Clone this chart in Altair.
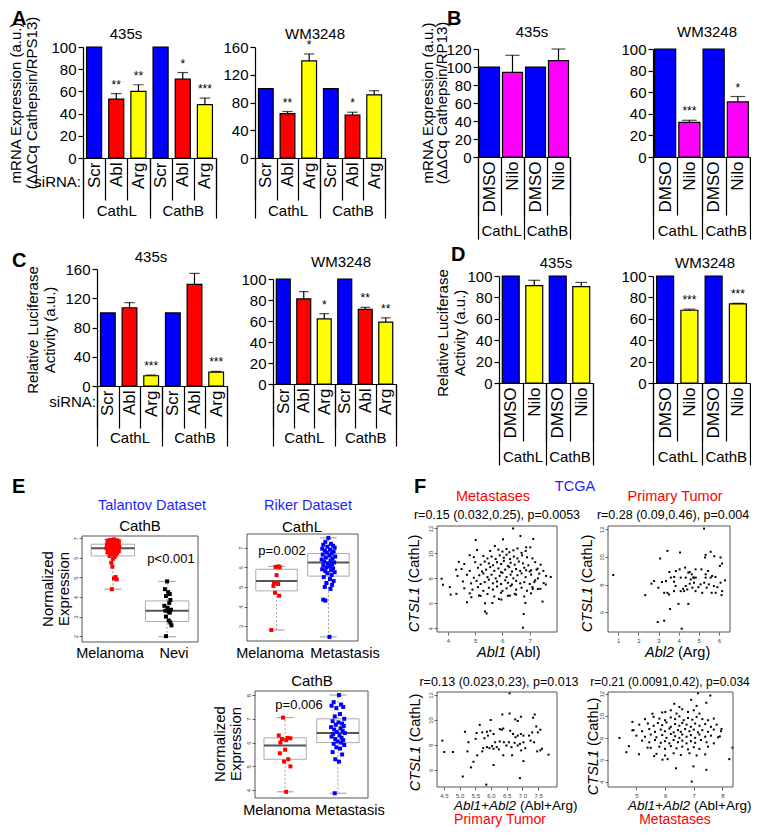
import altair as alt
import pandas as pd

FONT = "Liberation Sans"
BLUE = "#0000FF"; RED = "#FF0000"; YELLOW = "#FFFF00"; MAGENTA = "#FF00FF"
TBLUE = "#1E1EFF"
ONE = pd.DataFrame({"k": [0]})

# ---------------- data: bar panels ----------------
a_conds = ["Scr", "Abl", "Arg", "Scr", "Abl", "Arg"]
a_groups = ["CathL", "CathL", "CathL", "CathB", "CathB", "CathB"]
a435_vals = [100, 53, 60, 100, 71, 48]
a435_errs = [0, 5, 6, 0, 6, 6]
a435_stars = ["", "**", "**", "", "*", "***"]
awm_vals = [100, 64, 140, 100, 62, 91]
awm_errs = [0, 3, 10, 0, 4, 6]
awm_stars = ["", "**", "*", "", "*", ""]

b_conds = ["DMSO", "Nilo", "DMSO", "Nilo"]
b_groups = ["CathL", "CathL", "CathB", "CathB"]
b435_vals = [100, 94, 100, 107]
b435_errs = [0, 19, 0, 13]
b435_stars = ["", "", "", ""]
bwm_vals = [100, 32, 100, 51]
bwm_errs = [0, 2, 0, 5]
bwm_stars = ["", "***", "", "*"]

c435_vals = [100, 107, 14, 100, 139, 19]
c435_errs = [0, 7, 1, 0, 15, 1]
c435_stars = ["", "", "***", "", "", "***"]
cwm_vals = [100, 81, 62, 100, 71, 59]
cwm_errs = [0, 7, 5, 0, 2, 4]
cwm_stars = ["", "", "*", "", "**", "**"]

d435_vals = [100, 91, 100, 90]
d435_errs = [0, 5, 0, 4]
d435_stars = ["", "", "", ""]
dwm_vals = [100, 68, 100, 74]
dwm_errs = [0, 1, 0, 0.5]
dwm_stars = ["", "***", "", "***"]

# ---------------- data: E box plots (jitter, value) ----------------
tal_cats = ["Melanoma", "Nevi"]
tal_mel = [(0.02, 6.95), (-0.05, 6.92), (0.08, 6.9), (-0.1, 6.88), (0.04, 6.85), (0.11, 6.82), (-0.03, 6.8),
           (0.06, 6.78), (-0.08, 6.75), (0.1, 6.72), (0.0, 6.7), (-0.11, 6.68), (0.07, 6.65), (-0.04, 6.62),
           (0.03, 6.6), (0.12, 6.58), (-0.07, 6.55), (0.05, 6.52), (-0.12, 6.5), (0.09, 6.48), (-0.02, 6.45),
           (0.06, 6.42), (-0.09, 6.4), (0.02, 6.38), (0.11, 6.35), (-0.05, 6.32), (0.04, 6.3), (-0.1, 6.28),
           (0.08, 6.25), (-0.02, 6.2), (0.05, 6.15), (-0.06, 6.1), (0.03, 6.05), (0.0, 5.95), (-0.03, 5.75),
           (-0.01, 5.55), (0.05, 5.02), (0.02, 4.95), (0.07, 4.9), (-0.02, 4.4)]
tal_nevi = [(0.0, 4.8), (-0.04, 4.4), (0.02, 4.25), (0.05, 4.15), (-0.02, 4.05), (0.06, 3.85), (0.04, 3.7),
            (-0.05, 3.55), (0.01, 3.45), (0.07, 3.35), (-0.03, 3.3), (0.03, 3.25), (0.05, 3.2), (-0.02, 3.0),
            (0.03, 2.8), (0.06, 2.7), (0.08, 2.55), (-0.02, 2.0)]
tal_q1 = [6.1, 2.75]; tal_med = [6.5, 3.3]; tal_q3 = [6.7, 3.8]; tal_lo = [4.4, 1.97]; tal_hi = [6.95, 4.8]

rik_cats = ["Melanoma", "Metastasis"]
rl_mel = [(0.04, 6.05), (-0.02, 6.02), (0.06, 6.0), (0.0, 5.6), (-0.05, 5.2), (0.03, 5.15), (-0.06, 5.05),
          (-0.03, 4.7), (0.05, 4.55), (-0.1, 2.8)]
rl_met = [(0.0, 7.5), (-0.06, 7.3), (0.05, 7.2), (-0.1, 7.15), (0.09, 7.1), (-0.02, 7.05), (0.12, 7.0),
          (-0.12, 6.95), (0.03, 6.9), (-0.07, 6.85), (0.1, 6.8), (-0.03, 6.75), (0.06, 6.7), (-0.11, 6.65),
          (0.02, 6.6), (0.13, 6.55), (-0.05, 6.5), (0.08, 6.45), (-0.13, 6.4), (0.04, 6.35), (-0.08, 6.3),
          (0.11, 6.25), (-0.01, 6.2), (0.07, 6.15), (-0.1, 6.1), (0.02, 6.05), (-0.04, 6.0), (0.09, 5.95),
          (-0.12, 5.9), (0.05, 5.85), (-0.06, 5.8), (0.12, 5.75), (-0.02, 5.7), (0.06, 5.6), (-0.09, 5.5),
          (0.03, 5.4), (0.1, 5.3), (-0.04, 5.2), (0.07, 5.1), (-0.07, 5.0), (0.04, 4.9), (-0.1, 4.35),
          (-0.06, 4.3), (0.02, 2.45)]
rl_q1 = [4.8, 5.55]; rl_med = [5.3, 6.25]; rl_q3 = [5.9, 6.7]; rl_lo = [2.8, 2.45]; rl_hi = [6.05, 7.5]

rb_mel = [(-0.04, 7.05), (-0.12, 6.3), (0.05, 6.2), (0.1, 6.18), (-0.06, 6.15), (0.02, 6.1), (-0.09, 6.0),
          (0.0, 5.7), (-0.1, 5.55), (0.06, 5.3), (-0.02, 5.2), (0.1, 5.0), (0.02, 3.93)]
rb_met = [(0.02, 8.0), (-0.08, 7.7), (0.06, 7.6), (-0.12, 7.55), (0.1, 7.5), (-0.03, 7.45), (0.04, 7.2),
          (-0.06, 7.1), (0.12, 7.0), (-0.1, 6.9), (0.01, 6.85), (0.08, 6.8), (-0.04, 6.75), (0.11, 6.7),
          (-0.13, 6.65), (0.05, 6.6), (-0.07, 6.55), (0.09, 6.5), (-0.02, 6.45), (0.13, 6.4), (-0.09, 6.35),
          (0.03, 6.3), (-0.12, 6.25), (0.07, 6.2), (-0.05, 6.15), (0.1, 6.1), (-0.01, 6.05), (0.06, 6.0),
          (-0.08, 5.95), (0.12, 5.9), (-0.03, 5.8), (0.04, 5.75), (-0.1, 5.6), (0.08, 5.5), (-0.05, 5.3),
          (0.02, 5.2), (-0.06, 3.87)]
rb_q1 = [5.3, 6.0]; rb_med = [5.88, 6.4]; rb_q3 = [6.2, 7.0]; rb_lo = [3.93, 3.87]; rb_hi = [7.05, 8.0]

# ---------------- data: F scatter plots (x, y) ----------------
met_abl1 = [(6.39, 12.0), (5.02, 11.08), (6.02, 11.14), (6.66, 11.4), (7.13, 11.16), (6.87, 10.49), (7.02, 10.49),
            (5.72, 10.6), (5.07, 10.27), (4.8, 9.86), (4.4, 9.32), (4.3, 8.7), (3.77, 7.97), (3.82, 7.49),
            (4.07, 7.3), (4.1, 6.7), (4.31, 6.76), (4.7, 6.08), (4.86, 6.49), (5.14, 6.62), (5.36, 6.0),
            (5.36, 5.35), (5.42, 5.19), (5.63, 6.03), (5.87, 6.35), (5.96, 6.3), (6.27, 6.62), (6.45, 6.76),
            (6.78, 5.14), (6.75, 4.05), (6.84, 6.03), (7.47, 6.14), (7.77, 8.11), (7.59, 7.51), (7.51, 7.62),
            (7.29, 8.78), (7.35, 8.38), (7.17, 7.7), (7.11, 7.16), (7.39, 7.16), (7.05, 8.65), (6.87, 8.65),
            (5.55, 10.2), (5.85, 10.3), (6.0, 10.15), (6.15, 10.35), (6.25, 10.1), (6.4, 10.25), (6.55, 10.4),
            (6.7, 10.05), (6.85, 10.2),
            (4.95, 9.7), (5.3, 9.8), (5.45, 9.6), (5.6, 9.75), (5.75, 9.55), (5.9, 9.85), (6.05, 9.65),
            (6.15, 9.9), (6.28, 9.55), (6.42, 9.75), (6.55, 9.6), (6.72, 9.85), (6.9, 9.7), (7.1, 9.6),
            (4.6, 9.15), (5.0, 9.3), (5.2, 9.1), (5.35, 9.35), (5.5, 9.2), (5.65, 9.05), (5.8, 9.3), (5.95, 9.15),
            (6.05, 9.4), (6.2, 9.0), (6.3, 9.25), (6.45, 9.1), (6.6, 9.35), (6.75, 9.2), (6.95, 9.05), (7.2, 9.3),
            (7.4, 9.1),
            (4.5, 8.75), (4.8, 8.6), (5.1, 8.85), (5.25, 8.55), (5.4, 8.7), (5.55, 8.9), (5.7, 8.6), (5.85, 8.8),
            (5.95, 8.5), (6.1, 8.7), (6.25, 8.9), (6.35, 8.55), (6.5, 8.75), (6.65, 8.6), (6.8, 8.85), (7.0, 8.55),
            (7.25, 8.7), (7.5, 8.6),
            (4.35, 8.2), (4.7, 8.3), (4.95, 8.05), (5.15, 8.25), (5.3, 8.4), (5.45, 8.1), (5.6, 8.3), (5.75, 8.0),
            (5.9, 8.2), (6.0, 8.45), (6.15, 8.1), (6.3, 8.3), (6.4, 8.0), (6.55, 8.25), (6.7, 8.4), (6.85, 8.1),
            (7.05, 8.3), (7.3, 8.0), (7.6, 8.2),
            (4.55, 7.75), (4.85, 7.6), (5.05, 7.8), (5.2, 7.55), (5.35, 7.7), (5.5, 7.9), (5.65, 7.6), (5.8, 7.75),
            (5.95, 7.55), (6.1, 7.85), (6.2, 7.65), (6.35, 7.5), (6.5, 7.8), (6.65, 7.6), (6.8, 7.7), (7.0, 7.55),
            (7.2, 7.85),
            (4.6, 7.2), (4.9, 7.1), (5.1, 7.3), (5.3, 7.0), (5.5, 7.25), (5.65, 7.1), (5.8, 7.35), (6.0, 7.0),
            (6.15, 7.2), (6.3, 7.4), (6.5, 7.1), (6.7, 7.25), (6.9, 7.0), (7.1, 7.3), (7.3, 7.15),
            (4.8, 6.8), (5.2, 6.6), (5.45, 6.75), (5.7, 6.55), (5.95, 6.85), (6.2, 6.6), (6.5, 6.7), (6.8, 6.55),
            (7.05, 6.8)]

pt_abl2 = [(5.26, 12.05), (0.75, 8.69), (3.44, 10.44), (3.08, 9.88), (4.07, 10.32), (5.59, 10.37), (5.34, 10.15),
           (5.31, 9.96), (5.77, 10.05), (6.08, 9.96), (6.05, 9.35), (6.16, 9.52), (2.78, 8.25), (2.65, 8.06),
           (2.34, 7.23), (2.99, 7.77), (3.17, 8.18), (3.37, 8.25), (3.54, 8.91), (3.61, 8.5), (3.78, 8.55),
           (3.86, 8.98), (4.05, 9.1), (4.32, 9.23), (4.48, 8.86), (4.55, 8.91), (4.65, 8.74), (4.76, 8.5),
           (4.84, 9.1), (5.13, 9.1), (5.34, 8.74), (5.46, 8.98), (5.66, 8.62), (5.83, 8.55), (6.3, 8.3),
           (6.08, 8.13), (5.92, 7.81), (6.16, 7.52), (3.28, 7.4), (3.44, 7.4), (3.52, 7.28), (3.77, 7.52),
           (3.85, 7.89), (4.1, 7.52), (4.22, 7.69), (4.35, 7.89), (4.43, 7.64), (4.55, 8.06), (4.68, 7.77),
           (4.76, 8.13), (4.84, 7.52), (4.98, 7.81), (5.09, 8.01), (5.17, 7.4), (5.27, 8.13), (5.39, 7.77),
           (5.5, 8.01), (5.64, 7.4), (5.75, 7.89), (5.84, 7.4), (6.13, 7.23), (3.99, 6.6), (4.48, 6.6),
           (3.57, 6.23), (3.28, 5.38), (2.96, 5.28), (4.15, 4.8), (3.77, 8.2), (4.1, 8.5), (4.35, 8.5),
           (4.6, 8.37), (4.72, 8.5), (4.85, 8.5), (4.27, 7.52), (5.34, 8.5), (5.59, 8.5)]

pt_sum = [(6.59, 12.13), (6.59, 10.51), (6.36, 10.43), (6.95, 10.25), (6.77, 10.04), (6.85, 9.91), (7.39, 10.43),
          (7.34, 10.17), (5.99, 9.99), (5.64, 9.6), (5.17, 9.05), (4.45, 8.34), (4.51, 7.43), (4.79, 7.43),
          (5.28, 8.21), (5.25, 7.48), (5.54, 8.95), (5.51, 8.48), (5.72, 9.0), (5.79, 8.53), (5.87, 9.05),
          (5.98, 9.13), (5.9, 8.74), (6.08, 8.87), (6.28, 9.26), (6.34, 9.21), (6.39, 9.31), (6.61, 9.13),
          (6.7, 8.87), (6.78, 8.61), (6.85, 8.74), (6.95, 8.87), (7.03, 8.74), (7.21, 8.74), (7.31, 9.0),
          (7.44, 9.47), (7.57, 9.21), (7.49, 9.0), (7.26, 8.34), (7.37, 8.21), (5.87, 7.82), (5.95, 7.74),
          (6.03, 7.9), (6.08, 7.69), (6.18, 7.82), (6.25, 7.64), (6.13, 8.21), (6.28, 8.27), (6.41, 8.21),
          (6.49, 7.95), (6.57, 8.21), (6.65, 7.82), (6.75, 8.16), (6.85, 7.95), (6.92, 8.08), (7.03, 8.21),
          (7.09, 7.74), (6.39, 7.17), (6.67, 7.17), (6.96, 7.56), (5.72, 7.48), (5.75, 7.74), (5.56, 7.17),
          (5.44, 6.65), (5.36, 6.2), (6.08, 6.39), (7.03, 6.7), (7.47, 7.48), (7.57, 7.56), (7.62, 7.69),
          (7.83, 7.22), (5.1, 5.47), (5.85, 4.82), (6.92, 5.34)]

met_sum = [(7.15, 12.05), (7.58, 11.84), (6.91, 11.45), (6.32, 11.09), (7.44, 11.18), (6.01, 10.35), (5.56, 10.19),
           (4.86, 9.45), (4.86, 8.68), (4.41, 7.99), (4.74, 7.25), (4.65, 6.7), (5.09, 6.51), (8.35, 7.11),
           (8.24, 6.07), (6.99, 5.41), (6.38, 5.24), (6.93, 4.03), (7.44, 5.1), (6.09, 6.07), (5.91, 6.02),
           (5.62, 6.34), (5.39, 7.11), (7.97, 8.81), (7.91, 8.13),
           (5.9, 10.3), (6.2, 10.5), (6.4, 10.2), (6.6, 10.6), (6.8, 10.35), (7.0, 10.5), (7.2, 10.2), (6.5, 10.8),
           (7.1, 10.9),
           (5.3, 9.7), (5.6, 9.9), (5.8, 9.75), (6.0, 9.6), (6.2, 9.85), (6.35, 9.7), (6.5, 9.95), (6.65, 9.6),
           (6.8, 9.8), (6.95, 9.65), (7.1, 9.9), (7.3, 9.7), (7.5, 9.6), (7.7, 9.75),
           (5.1, 9.2), (5.4, 9.3), (5.6, 9.1), (5.75, 9.35), (5.9, 9.15), (6.05, 9.4), (6.2, 9.0), (6.35, 9.25),
           (6.5, 9.1), (6.6, 9.35), (6.75, 9.2), (6.9, 9.0), (7.05, 9.3), (7.2, 9.1), (7.4, 9.25), (7.6, 9.0),
           (7.8, 9.2),
           (4.9, 8.7), (5.2, 8.6), (5.45, 8.8), (5.65, 8.55), (5.85, 8.75), (6.0, 8.6), (6.15, 8.85), (6.3, 8.5),
           (6.45, 8.7), (6.55, 8.55), (6.7, 8.8), (6.85, 8.6), (7.0, 8.75), (7.15, 8.5), (7.3, 8.7), (7.5, 8.55),
           (7.7, 8.75), (7.95, 8.6),
           (5.0, 8.2), (5.3, 8.1), (5.5, 8.3), (5.7, 8.05), (5.9, 8.25), (6.05, 8.0), (6.2, 8.35), (6.35, 8.15),
           (6.5, 8.0), (6.6, 8.3), (6.75, 8.1), (6.9, 8.25), (7.05, 8.0), (7.2, 8.3), (7.4, 8.1), (7.6, 8.2),
           (7.85, 8.05),
           (5.2, 7.75), (5.45, 7.6), (5.65, 7.8), (5.85, 7.55), (6.0, 7.7), (6.15, 7.5), (6.3, 7.8), (6.45, 7.6),
           (6.6, 7.75), (6.75, 7.5), (6.9, 7.7), (7.05, 7.55), (7.25, 7.8), (7.45, 7.6), (7.7, 7.5),
           (5.5, 7.1), (5.8, 7.2), (6.0, 7.0), (6.2, 7.25), (6.4, 7.05), (6.6, 7.2), (6.8, 6.95), (7.0, 7.15),
           (7.2, 7.0), (7.5, 7.2),
           (5.7, 6.55), (6.0, 6.4), (6.3, 6.6), (6.55, 6.45), (6.85, 6.6), (7.1, 6.4), (7.4, 6.5)]

# ---------------- one canvas; every panel is a layer with its own scales ----------------
OX, OY = 8, 8          # page margin: chart origin on the page
CW, CH = 743, 820      # whole canvas


def txt(spec):
    kw = dict(text=spec["t"], fontSize=spec.get("size", 15), color=spec.get("color", "black"),
              align=spec.get("align", "center"), baseline=spec.get("baseline", "middle"),
              fontWeight=spec.get("weight", "normal"), font=FONT)
    if "angle" in spec:
        kw["angle"] = spec["angle"]
    if spec.get("italic"):
        kw["fontStyle"] = "italic"
    return alt.Chart(ONE).mark_text(**kw).encode(x=alt.value(spec["x"] - OX), y=alt.value(spec["y"] - OY))


def geom(plot):
    px, py, w, h = plot
    x0 = px - OX
    y0 = py - OY
    return x0, x0 + w, y0, y0 + h


AX = dict(labelFont=FONT, labelColor="black", tickColor="black", domainColor="black")


def bar_panel(conds, groups, vals, errs, stars, cdom, crng, ymax, ystep, plot, texts,
              cond_tick, grp_tick, grp_y, bar_frac):
    x0, x1, y0, y1 = geom(plot)
    boff = -(CH - y1)
    ids = [f"{c}{i}" for i, c in enumerate(conds)]
    df = pd.DataFrame({"id": ids, "cond": conds, "val": vals, "err": errs, "star": stars})
    df["top"] = df["val"] + df["err"]
    band = (x1 - x0) / len(ids)
    xenc = alt.X("id:N", sort=ids, title=None, scale=alt.Scale(paddingInner=0, paddingOuter=0, range=[x0, x1]),
                 axis=alt.Axis(orient="bottom", offset=boff, labelAngle=-90, labelFontSize=17,
                               labelExpr="substring(datum.label, 0, length(datum.label) - 1)",
                               tickBand="extent", tickSize=cond_tick, tickWidth=1.2, domainWidth=1.2,
                               labelPadding=4 - cond_tick, **AX))
    yscale = alt.Scale(domain=[0, ymax], nice=False, zero=True, range=[y1, y0])
    yaxis = alt.Axis(orient="left", offset=-x0, values=list(range(0, ymax + 1, ystep)), grid=False, tickSize=5,
                     tickWidth=1.2, domainWidth=1.2, labelFontSize=15, labelPadding=2, labelFlush=False,
                     labelOverlap=False, **AX)

    def Y(f):
        return alt.Y(f"{f}:Q", title=None, scale=yscale, axis=yaxis)

    base = alt.Chart(df)
    bars = base.mark_bar(width=alt.RelativeBandSize(bar_frac), stroke="black", strokeWidth=1.2).encode(
        x=xenc, y=Y("val"), color=alt.Color("cond:N", scale=alt.Scale(domain=cdom, range=crng), legend=None))
    eb = base.transform_filter("datum.err > 0")
    rule = eb.mark_rule(color="black", strokeWidth=1.2).encode(x=xenc, y=Y("val"), y2="top:Q")
    cap = eb.mark_tick(color="black", thickness=1.2, size=band * bar_frac * 0.7).encode(x=xenc, y=Y("top"))
    st = base.mark_text(baseline="bottom", dy=-2, fontSize=12, font=FONT, color="black").encode(
        x=xenc, y=Y("top"), text="star:N")
    main = alt.layer(bars, rule, cap, st)

    gorder = list(dict.fromkeys(groups))
    gdf = pd.DataFrame({"group": gorder})
    gax = alt.Chart(gdf).mark_text(text=" ", opacity=0).encode(
        x=alt.X("group:N", sort=gorder, title=None,
                scale=alt.Scale(paddingInner=0, paddingOuter=0, range=[x0, x1]),
                axis=alt.Axis(orient="bottom", offset=boff, labelAngle=0, labelFontSize=15, tickBand="extent",
                              tickSize=grp_tick, tickWidth=1.2, domain=False,
                              labelPadding=(grp_y - plot[1] - plot[3]) - 7 - grp_tick, **AX)),
        y=alt.value(y0))
    layers = [main, gax] + [txt(s) for s in texts]
    return alt.layer(*layers).resolve_scale(x="independent")


def border(x0, x1, y0, y1):
    return alt.Chart(ONE).mark_rect(fillOpacity=0, stroke="#555555", strokeWidth=1).encode(
        x=alt.value(x0), x2=alt.value(x1), y=alt.value(y0), y2=alt.value(y1))


def box_panel(cats, pts, q1, med, q3, lo, hi, colors, ydom, yvals, plot, texts):
    x0, x1, y0, y1 = geom(plot)
    rows = []
    for i, grp in enumerate(pts):
        for j, y in grp:
            rows.append({"cat": cats[i], "x": i + 1 + j, "y": y})
    pdf = pd.DataFrame(rows)
    sdf = pd.DataFrame({"cat": cats, "pos": [1, 2], "q1": q1, "med": med, "q3": q3, "lo": lo, "hi": hi})
    xs = alt.Scale(domain=[0.43, 2.57], nice=False, zero=False, range=[x0, x1])
    ys = alt.Scale(domain=ydom, nice=False, zero=False, range=[y1, y0])
    yaxis = alt.Axis(orient="left", offset=-x0, values=yvals, grid=False, domain=False, tickSize=3,
                     tickColor="#666666", labelFontSize=6, labelAngle=-90, labelColor="#444444", labelPadding=1,
                     labelFlush=False, labelOverlap=False)

    def X(f):
        return alt.X(f"{f}:Q", scale=xs, axis=None, title=None)

    def Y(f):
        return alt.Y(f"{f}:Q", scale=ys, axis=yaxis, title=None)

    sb = alt.Chart(sdf).transform_calculate(xl="datum.pos - 0.4", xr="datum.pos + 0.4",
                                            cl="datum.pos - 0.16", cr="datum.pos + 0.16")
    wl = sb.mark_rule(color="#888888", strokeDash=[2, 2], strokeWidth=0.8).encode(x=X("pos"), y=Y("lo"), y2="q1:Q")
    wh = sb.mark_rule(color="#888888", strokeDash=[2, 2], strokeWidth=0.8).encode(x=X("pos"), y=Y("q3"), y2="hi:Q")
    cl = sb.mark_rule(color="#999999", strokeWidth=1).encode(x=X("cl"), x2="cr:Q", y=Y("lo"))
    ch = sb.mark_rule(color="#999999", strokeWidth=1).encode(x=X("cl"), x2="cr:Q", y=Y("hi"))
    bx = sb.mark_rect(fill="white", stroke="#aaaaaa", strokeWidth=1).encode(x=X("xl"), x2="xr:Q", y=Y("q1"), y2="q3:Q")
    md = sb.mark_rule(color="#555555", strokeWidth=2).encode(x=X("xl"), x2="xr:Q", y=Y("med"))
    pt = alt.Chart(pdf).mark_square(size=16, opacity=1).encode(
        x=X("x"), y=Y("y"), color=alt.Color("cat:N", scale=alt.Scale(domain=cats, range=colors), legend=None))
    layers = [wl, wh, cl, ch, bx, md, pt, border(x0, x1, y0, y1)] + [txt(s) for s in texts]
    return alt.layer(*layers)


def scatter_panel(points, xdom, xvals, xfmt, ydom, yvals, plot, texts):
    x0, x1, y0, y1 = geom(plot)
    df = pd.DataFrame(points, columns=["x", "y"])
    xaxis = alt.Axis(orient="bottom", offset=-(CH - y1), values=xvals, format=xfmt, grid=False, domain=False,
                     tickSize=3, tickColor="#666666", labelFontSize=6, labelColor="#444444", labelPadding=2,
                     labelFlush=False, labelOverlap=False)
    yaxis = alt.Axis(orient="left", offset=-x0, values=yvals, grid=False, domain=False, tickSize=3,
                     tickColor="#666666", labelFontSize=6, labelAngle=-90, labelColor="#444444", labelPadding=1,
                     labelFlush=False, labelOverlap=False)
    pts = alt.Chart(df).mark_square(size=4, color="black", opacity=1).encode(
        x=alt.X("x:Q", scale=alt.Scale(domain=xdom, nice=False, zero=False, range=[x0, x1]), axis=xaxis, title=None),
        y=alt.Y("y:Q", scale=alt.Scale(domain=ydom, nice=False, zero=False, range=[y1, y0]), axis=yaxis, title=None))
    layers = [pts, border(x0, x1, y0, y1)] + [txt(s) for s in texts]
    return alt.layer(*layers)


def letter(t, x, y):
    return {"t": t, "x": x, "y": y, "size": 20, "weight": "bold", "align": "left", "baseline": "middle"}


def rot(t, x, y, size=15):
    return {"t": t, "x": x, "y": y, "size": size, "angle": 270}


def split_x(it, nt, x, y, size=14.5):
    return [{"t": it, "x": x, "y": y, "size": size, "italic": True, "align": "right"},
            {"t": nt, "x": x + 4, "y": y, "size": size, "align": "left"}]


def split_y(it, nt, x, y, size=14.5):
    return [{"t": it, "x": x, "y": y, "size": size, "italic": True, "align": "right", "angle": 270},
            {"t": nt, "x": x, "y": y - 4, "size": size, "align": "left", "angle": 270}]


ACOL = (["Scr", "Abl", "Arg"], [BLUE, RED, YELLOW])
BCOL = (["DMSO", "Nilo"], [BLUE, MAGENTA])
DCOL = (["DMSO", "Nilo"], [BLUE, YELLOW])
MRNA1 = "mRNA Expression (a.u.)"
LUC1, LUC2 = "Relative Luciferase", "Activity (a.u.)"

# ---------------- A, B ----------------
A1 = bar_panel(a_conds, a_groups, a435_vals, a435_errs, a435_stars, *ACOL, 100, 20, (83, 47, 133, 111),
               [letter("A", 12, 19), {"t": "435s", "x": 126, "y": 34},
                rot(MRNA1, 16, 103), rot("(\u0394\u0394Cq Cathepsin/RPS13)", 32, 103),
                {"t": "siRNA:", "x": 81, "y": 182, "align": "right"}],
               42, 60, 210, 0.68)
A2 = bar_panel(a_conds, a_groups, awm_vals, awm_errs, awm_stars, *ACOL, 160, 40, (255, 47, 130, 111),
               [{"t": "WM3248", "x": 315, "y": 34}], 42, 60, 210, 0.68)
B1 = bar_panel(b_conds, b_groups, b435_vals, b435_errs, b435_stars, *BCOL, 120, 20, (478, 49, 92, 108),
               [letter("B", 447, 19), {"t": "435s", "x": 532, "y": 32},
                rot(MRNA1, 428, 103), rot("(\u0394\u0394Cq Cathepsin/RP13)", 442, 103)],
               58, 82, 230, 0.87)
B2 = bar_panel(b_conds, b_groups, bwm_vals, bwm_errs, bwm_stars, *BCOL, 100, 20, (653, 49, 97, 108),
               [{"t": "WM3248", "x": 707, "y": 32}], 58, 82, 230, 0.87)

# ---------------- C, D ----------------
C1 = bar_panel(a_conds, a_groups, c435_vals, c435_errs, c435_stars, *ACOL, 160, 40, (97, 269, 130, 117),
               [letter("C", 12, 261), {"t": "435s", "x": 151, "y": 257},
                rot(LUC1, 33, 330), rot(LUC2, 50, 330),
                {"t": "siRNA:", "x": 96, "y": 402, "align": "right"}],
               42, 60, 437, 0.68)
C2 = bar_panel(a_conds, a_groups, cwm_vals, cwm_errs, cwm_stars, *ACOL, 100, 20, (273, 279, 123, 105),
               [{"t": "WM3248", "x": 341, "y": 262}], 44, 62, 437, 0.68)
D1 = bar_panel(b_conds, b_groups, d435_vals, d435_errs, d435_stars, *DCOL, 100, 20, (499, 276, 94, 107),
               [letter("D", 451, 255), {"t": "435s", "x": 556, "y": 263},
                rot(LUC1, 443, 333), rot(LUC2, 460, 333)],
               58, 82, 456, 0.72)
D2 = bar_panel(b_conds, b_groups, dwm_vals, dwm_errs, dwm_stars, *DCOL, 100, 20, (653, 276, 97, 107),
               [{"t": "WM3248", "x": 705, "y": 263}], 58, 82, 456, 0.7)

# ---------------- E ----------------
ET = box_panel(tal_cats, [tal_mel, tal_nevi], tal_q1, tal_med, tal_q3, tal_lo, tal_hi, [RED, "black"],
               [1.7, 7.12], [2, 3, 4, 5, 6, 7], (82, 536, 116, 106),
               [letter("E", 12, 487), {"t": "Talantov Dataset", "x": 152, "y": 506, "color": TBLUE, "size": 14.5},
                {"t": "CathB", "x": 140, "y": 526}, rot("Normalized", 48, 589), rot("Expression", 64, 589),
                {"t": "p<0.001", "x": 171, "y": 559, "size": 13},
                {"t": "Melanoma", "x": 110, "y": 654, "size": 14.5}, {"t": "Nevi", "x": 174, "y": 654, "size": 14.5}])
RL = box_panel(rik_cats, [rl_mel, rl_met], rl_q1, rl_med, rl_q3, rl_lo, rl_hi, [RED, BLUE],
               [2.24, 7.7], [3, 4, 5, 6, 7], (247, 534, 111, 107),
               [{"t": "Riker Dataset", "x": 308, "y": 506, "color": TBLUE, "size": 14.5},
                {"t": "CathL", "x": 302, "y": 527}, {"t": "p=0.002", "x": 282, "y": 551, "size": 13},
                {"t": "Melanoma", "x": 270, "y": 654, "size": 14.5},
                {"t": "Metastasis", "x": 345, "y": 654, "size": 14.5}])
RB = box_panel(rik_cats, [rb_mel, rb_met], rb_q1, rb_med, rb_q3, rb_lo, rb_hi, [RED, BLUE],
               [3.67, 8.17], [4, 5, 6, 7, 8], (255, 691, 113, 107),
               [{"t": "CathB", "x": 312, "y": 681}, {"t": "p=0.006", "x": 299, "y": 705, "size": 13},
                rot("Normalized", 220, 744), rot("Expression", 236, 744),
                {"t": "Melanoma", "x": 277, "y": 811, "size": 14.5},
                {"t": "Metastasis", "x": 350, "y": 811, "size": 14.5}])

# ---------------- F ----------------
S1 = scatter_panel(met_abl1, [3.6, 8.0], [4, 5, 6, 7], "d", [3.7, 12.2], [4, 6, 8, 10, 12], (437, 526, 120, 106),
                   [letter("F", 414, 487), {"t": "TCGA", "x": 575, "y": 487, "color": TBLUE, "size": 14.5},
                    {"t": "Metastases", "x": 493, "y": 497, "color": RED, "size": 14.5},
                    {"t": "r=0.15 (0.032,0.25), p=0.0053", "x": 497, "y": 515, "size": 12.5}]
                   + split_y("CTSL1", "(CathL)", 415, 587) + split_x("Abl1", "(Abl)", 506, 653))
S2 = scatter_panel(pt_abl2, [0.49, 6.55], [1, 2, 3, 4, 5, 6], "d", [4.56, 12.24], [6, 8, 10, 12],
                   (608, 526, 122, 106),
                   [{"t": "Primary Tumor", "x": 675, "y": 497, "color": RED, "size": 14.5},
                    {"t": "r=0.28 (0.09,0.46), p=0.004", "x": 673, "y": 515, "size": 12.5}]
                   + split_y("CTSL1", "(CathL)", 588, 587) + split_x("Abl2", "(Arg)", 674, 653))
S3 = scatter_panel(pt_sum, [4.28, 8.1], [4.5, 5.0, 5.5, 6.0, 6.5, 7.0, 7.5], ".1f", [4.63, 12.23], [6, 8, 10, 12],
                   (437, 692, 120, 95),
                   [{"t": "r=0.13 (0.023,0.23), p=0.013", "x": 499, "y": 682, "size": 12.5},
                    {"t": "Primary Tumor", "x": 500, "y": 820, "color": RED, "size": 14}]
                   + split_y("CTSL1", "(CathL)", 416, 746) + split_x("Abl1+Abl2", "(Abl+Arg)", 516, 806, 13.5))
S4 = scatter_panel(met_sum, [4.01, 8.37], [5, 6, 7, 8], "d", [3.54, 12.16], [4, 6, 8, 10, 12],
                   (608, 692, 125, 95),
                   [{"t": "r=0.21 (0.0091,0.42), p=0.034", "x": 670, "y": 682, "size": 12},
                    {"t": "Metastases", "x": 675, "y": 820, "color": RED, "size": 14}]
                   + split_y("CTSL1", "(CathL)", 594, 750) + split_x("Abl1+Abl2", "(Abl+Arg)", 690, 806, 13.5))

panels = [A1, A2, B1, B2, C1, C2, D1, D2, ET, RL, RB, S1, S2, S3, S4]
chart = alt.layer(*panels).resolve_scale(x="independent", y="independent", color="independent").properties(
    width=CW, height=CH, padding=0, autosize=alt.AutoSizeParams(type="none")).configure_view(
    stroke=None).configure_axis(labelFont=FONT).configure_text(font=FONT)

chart.save("out.html", embed_options={"renderer": "svg", "actions": False})
